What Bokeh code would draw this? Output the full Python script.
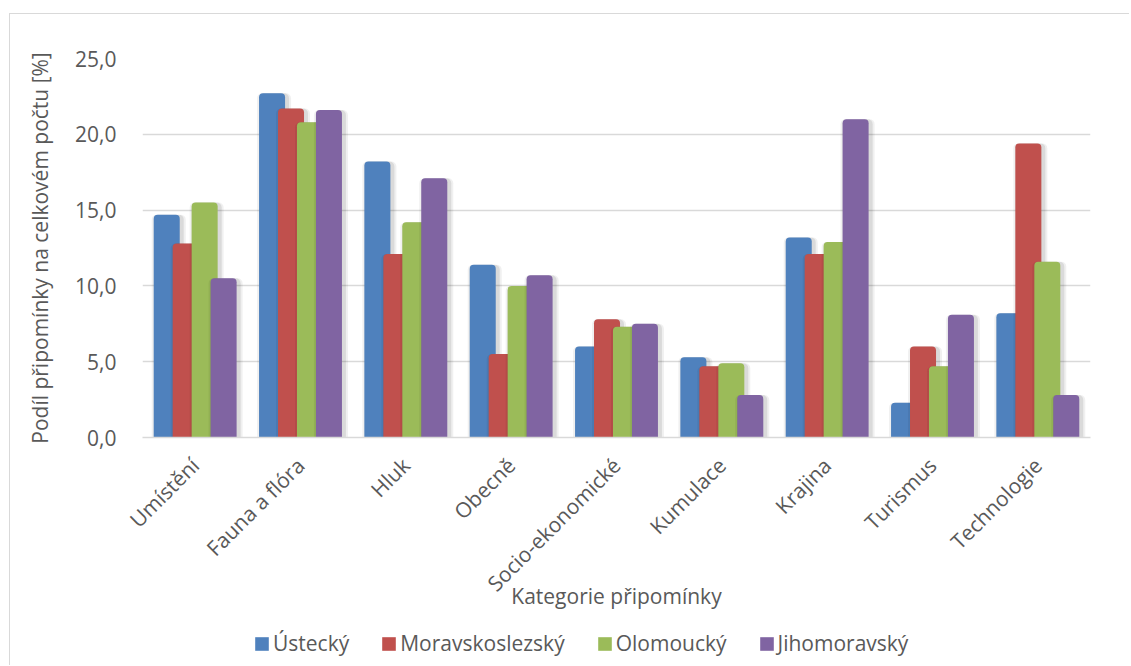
import math

from bokeh.embed import file_html
from bokeh.layouts import column
from bokeh.models import ColumnDataSource, FactorRange, FixedTicker, Legend, LegendItem, Range1d
from bokeh.plotting import figure
from bokeh.resources import INLINE
from bokeh.transform import dodge

# Share of comments per category, by region [%]
categories = ["Umístění", "Fauna a flóra", "Hluk", "Obecně", "Socio-ekonomické",
              "Kumulace", "Krajina", "Turismus", "Technologie"]
regions = ["Ústecký", "Moravskoslezský", "Olomoucký", "Jihomoravský"]
ustecky = [14.7, 22.7, 18.2, 11.4, 6.0, 5.3, 13.2, 2.3, 8.2]
moravskoslezsky = [12.8, 21.7, 12.1, 5.5, 7.8, 4.7, 12.1, 6.0, 19.4]
olomoucky = [15.5, 20.8, 14.2, 10.0, 7.3, 4.9, 12.9, 4.7, 11.6]
jihomoravsky = [10.5, 21.6, 17.1, 10.7, 7.5, 2.8, 21.0, 8.1, 2.8]
y_ticks = [0, 5, 10, 15, 20, 25]
y_tick_labels = ["0,0", "5,0", "10,0", "15,0", "20,0", "25,0"]

colors = ["#4F81BD", "#C0504D", "#9BBB59", "#8064A2"]
FONT = "Open Sans"
FONT_SIZE = "21px"
TEXT = "#595959"
GRID = "#D9D9D9"
BORDER = "1px solid #D9D9D9"

source = ColumnDataSource(dict(cat=categories, s0=ustecky, s1=moravskoslezsky,
                               s2=olomoucky, s3=jihomoravsky))

p = figure(width=1120, height=610, output_backend="svg", toolbar_location=None,
           x_range=FactorRange(factors=categories, range_padding=0),
           y_range=Range1d(0, 25),
           min_border_left=132, min_border_right=40, min_border_top=44, min_border_bottom=187)
p.margin = (13, 0, 0, 9)
p.styles = {"border-top": BORDER, "border-left": BORDER}
p.outline_line_color = None
p.background_fill_color = "white"
p.border_fill_color = "white"

# Clustered, overlapping columns with a soft drop shadow
pitch = 0.18
bar_w = 0.247
px = 1.0 / 105.3
for i, (col, color) in enumerate(zip(["s0", "s1", "s2", "s3"], colors)):
    off = (i - 1.5) * pitch
    for grow, alpha in [(8, 0.06), (4, 0.09)]:
        p.vbar(x=dodge("cat", off + 2 * px, range=p.x_range), top=col, bottom=0,
               width=bar_w + grow * px, source=source, fill_color="black",
               fill_alpha=alpha, line_color=None, border_radius=(5, 5, 0, 0))
    p.vbar(x=dodge("cat", off, range=p.x_range), top=col, bottom=0, width=bar_w,
           source=source, fill_color=color, line_color=None,
           border_radius=(4, 4, 0, 0))

# Axes
p.xgrid.grid_line_color = None
p.ygrid.grid_line_color = GRID
p.ygrid.grid_line_width = 1.5
p.yaxis.ticker = FixedTicker(ticks=y_ticks)
p.yaxis.major_label_overrides = {t: lab for t, lab in zip(y_ticks, y_tick_labels)}
p.yaxis.axis_line_color = None
p.yaxis.major_tick_line_color = None
p.yaxis.minor_tick_line_color = None
p.yaxis.major_label_standoff = 20
p.yaxis.axis_label = "Podíl připomínky na celkovém počtu [%]"
p.yaxis.axis_label_standoff = 18

p.xaxis.axis_line_color = GRID
p.xaxis.axis_line_width = 1.5
p.xaxis.major_tick_line_color = None
p.xaxis.minor_tick_line_color = None
p.xaxis.major_label_orientation = math.pi / 4
p.xaxis.major_label_standoff = 18
p.xaxis.axis_label = "Kategorie připomínky"
p.xaxis.axis_label_standoff = -28

for ax in (p.xaxis, p.yaxis):
    ax.major_label_text_font = FONT
    ax.major_label_text_font_size = FONT_SIZE
    ax.major_label_text_color = TEXT
    ax.axis_label_text_font = FONT
    ax.axis_label_text_font_size = FONT_SIZE
    ax.axis_label_text_font_style = "normal"
    ax.axis_label_text_color = TEXT

# Legend strip underneath the chart
leg = figure(width=1120, height=42, output_backend="svg", toolbar_location=None,
             x_axis_type=None, y_axis_type=None, x_range=Range1d(0, 1), y_range=Range1d(0, 1),
             min_border=0)
leg.margin = (0, 0, 0, 9)
leg.styles = {"border-left": BORDER}
leg.outline_line_color = None
leg.grid.grid_line_color = None
leg.border_fill_color = "white"
nan = float("nan")
swatches = [leg.vbar(x=[nan], top=[nan], width=0.1, fill_color=c, line_color=None,
                     border_radius=3) for c in colors]
legend = Legend(items=[LegendItem(label=name, renderers=[r]) for name, r in zip(regions, swatches)],
                orientation="horizontal", location=(111, 8),
                border_line_color=None, background_fill_alpha=0,
                padding=0, margin=0, spacing=31, glyph_width=17, glyph_height=17,
                label_standoff=3, label_text_font=FONT, label_text_font_size=FONT_SIZE,
                label_text_color=TEXT)
leg.add_layout(legend)

open("out.html", "w").write(file_html(column(p, leg, spacing=0), INLINE))
